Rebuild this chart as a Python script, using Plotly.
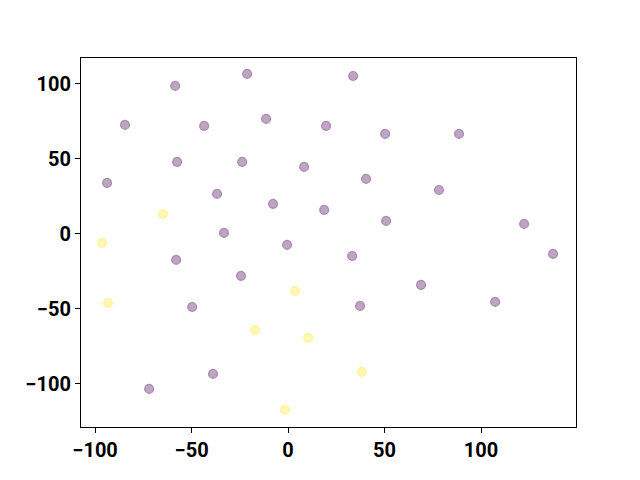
import plotly.graph_objects as go

x_vals = [-21.2, 33.7, -58.5, -84.5, -43.5, -11.4, 19.7, 50.3, 88.6, -93.8,
          -57.5, -23.8, 8.3, 40.4, 78.2, -36.8, -7.8, 18.7, 50.8, 122.3,
          -33.2, -0.5, -58.0, 33.2, 137.3, -24.4, 68.9, -49.7, 37.3, 107.3,
          -38.9, -72.0,
          -64.8, -96.4, -93.3, 3.6, -17.1, 10.4, 38.3, -1.6]
y_vals = [106.7, 105.3, 98.7, 72.7, 72.0, 76.7, 72.0, 66.7, 66.7, 34.0,
          48.0, 48.0, 44.7, 36.7, 29.3, 26.7, 20.0, 16.0, 8.7, 6.7,
          0.7, -7.3, -17.3, -14.7, -13.3, -28.0, -34.0, -48.7, -48.0, -45.3,
          -93.3, -103.3,
          13.3, -6.0, -46.0, -38.0, -64.0, -69.3, -92.0, -117.3]
labels = [0] * 32 + [1] * 8

palette = {0: "rgba(68,1,84,0.35)", 1: "rgba(253,231,37,0.35)"}
colors = [palette[l] for l in labels]

fig = go.Figure(go.Scatter(
    x=x_vals, y=y_vals, mode="markers",
    marker=dict(size=9, color=colors, line=dict(color=colors, width=1.2)),
))

axis_common = dict(
    showgrid=False, zeroline=False, showline=True, linecolor="black",
    linewidth=1.2, mirror=True, ticks="outside", ticklen=5, tickwidth=1.2,
    tickcolor="black",
    tickfont=dict(family="Roboto", size=20, color="black", weight="bold"),
)
fig.update_xaxes(range=[-107.3, 149.2], tickvals=[-100, -50, 0, 50, 100], **axis_common)
fig.update_yaxes(range=[-128.7, 117.3], tickvals=[-100, -50, 0, 50, 100], **axis_common)

fig.update_layout(
    width=640, height=480,
    margin=dict(l=73, r=72, t=50, b=61),
    plot_bgcolor="white", paper_bgcolor="white",
    showlegend=False,
)
fig.write_html("out.html")
